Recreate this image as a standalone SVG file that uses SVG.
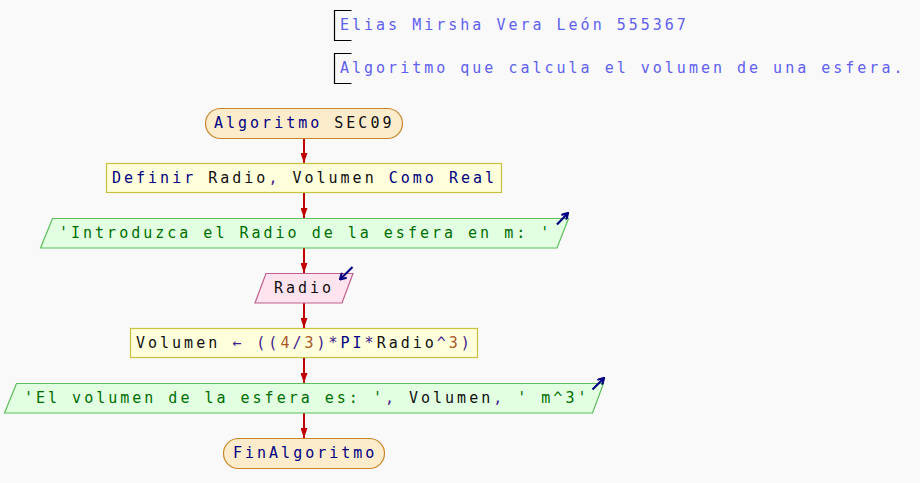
<svg xmlns="http://www.w3.org/2000/svg" width="920" height="483" viewBox="0 0 920 483">
  <defs>
    <marker id="flowHead" viewBox="0 0 10 7" refX="10" refY="3.5" markerWidth="10" markerHeight="7" markerUnits="userSpaceOnUse" orient="auto">
      <path d="M0,0 L10,3.5 L0,7 Z" fill="#c00000"/>
    </marker>
    <marker id="ioHead" viewBox="0 0 8 8" refX="7" refY="4" markerWidth="8" markerHeight="8" markerUnits="userSpaceOnUse" orient="auto">
      <path d="M1,0.5 L7,4 L1,7.5" fill="none" stroke="#000080" stroke-width="2.2"/>
    </marker>
  </defs>
  <style>
    .bg { fill: #f9f9f9; }
    text { font-family: "DejaVu Sans Mono", "Liberation Mono", monospace; font-size: 15px; letter-spacing: 3px; }
    .kw { fill: #000080; }
    .id { fill: #101010; }
    .str { fill: #006d00; }
    .num { fill: #a8582a; }
    .op { fill: #40208a; }
    .cmt { fill: #5f5ff0; }
    .term { fill: #fdeccc; stroke: #c8862a; stroke-width: 1.2; }
    .proc { fill: #ffffdc; stroke: #c8c040; stroke-width: 1.2; }
    .out { fill: #e2ffe2; stroke: #5cbf5c; stroke-width: 1.2; }
    .in { fill: #ffe3ef; stroke: #c0608e; stroke-width: 1.2; }
    .bracket { fill: none; stroke: #000; stroke-width: 1.2; }
    .flow { stroke: #c00000; stroke-width: 2; fill: none; marker-end: url(#flowHead); }
    .io { stroke: #000080; stroke-width: 2.2; fill: none; marker-end: url(#ioHead); }
  </style>

  <rect class="bg" x="0" y="0" width="920" height="483"/>

  <!-- comments -->
  <g id="comment1">
    <path class="bracket" d="M351.5,10.5 H334.5 V40.5 H351.5"/>
    <text class="cmt" x="340" y="30">Elias Mirsha Vera León 555367</text>
  </g>
  <g id="comment2">
    <path class="bracket" d="M351.5,53.5 H334.5 V83.5 H351.5"/>
    <text class="cmt" x="340" y="73">Algoritmo que calcula el volumen de una esfera.</text>
  </g>

  <!-- connectors -->
  <g id="connectors">
    <line class="flow" x1="304" y1="138.5" x2="304" y2="163"/>
    <line class="flow" x1="304" y1="193" x2="304" y2="218"/>
    <line class="flow" x1="304" y1="248" x2="304" y2="273"/>
    <line class="flow" x1="304" y1="303" x2="304" y2="328"/>
    <line class="flow" x1="304" y1="358" x2="304" y2="383"/>
    <line class="flow" x1="304" y1="413" x2="304" y2="438"/>
  </g>

  <g id="start">
    <rect class="term" x="205.5" y="108.5" width="197" height="30" rx="15" ry="15"/>
    <text x="214" y="128"><tspan class="kw">Algoritmo</tspan> <tspan class="id">SEC09</tspan></text>
  </g>

  <g id="define">
    <rect class="proc" x="106.5" y="163.5" width="395" height="29"/>
    <text x="112" y="183"><tspan class="kw">Definir</tspan> <tspan class="id">Radio</tspan><tspan class="op">,</tspan> <tspan class="id">Volumen</tspan> <tspan class="kw">Como</tspan> <tspan class="kw">Real</tspan></text>
  </g>

  <g id="prompt">
    <polygon class="out" points="52.5,218.5 568.5,218.5 557,248 40.5,248"/>
    <text class="str" x="59" y="238">'Introduzca el Radio de la esfera en m: '</text>
    <line class="io" x1="557" y1="224.5" x2="568" y2="213"/>
  </g>

  <g id="read">
    <polygon class="in" points="266,273.5 353,273.5 342,303 255,303"/>
    <text class="id" x="274" y="293">Radio</text>
    <line class="io" x1="352.5" y1="267" x2="340" y2="279.5"/>
  </g>

  <g id="compute">
    <rect class="proc" x="130.5" y="328.5" width="347" height="29"/>
    <text x="136" y="348"><tspan class="id">Volumen</tspan> <tspan class="op">←</tspan> <tspan class="op">((</tspan><tspan class="num">4</tspan><tspan class="op">/</tspan><tspan class="num">3</tspan><tspan class="op">)*</tspan><tspan class="kw">PI</tspan><tspan class="op">*</tspan><tspan class="id">Radio</tspan><tspan class="op">^</tspan><tspan class="num">3</tspan><tspan class="op">)</tspan></text>
  </g>

  <g id="result">
    <polygon class="out" points="16.5,383.5 603.5,383.5 592.5,413 4.5,413"/>
    <text x="24" y="403"><tspan class="str">'El volumen de la esfera es: '</tspan><tspan class="op">,</tspan> <tspan class="id">Volumen</tspan><tspan class="op">,</tspan> <tspan class="str">' m^3'</tspan></text>
    <line class="io" x1="592.5" y1="389.5" x2="604" y2="378"/>
  </g>

  <g id="end">
    <rect class="term" x="223.5" y="438.5" width="161" height="30" rx="15" ry="15"/>
    <text class="kw" x="233" y="458">FinAlgoritmo</text>
  </g>
</svg>
